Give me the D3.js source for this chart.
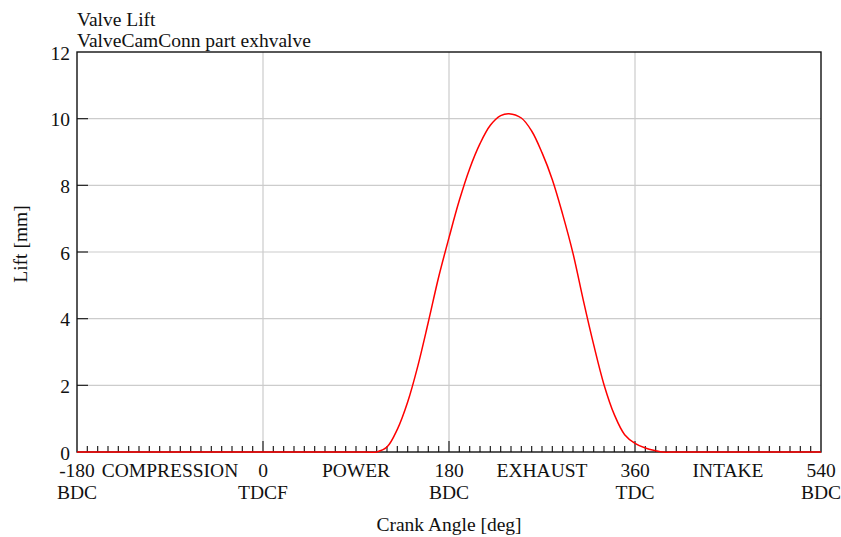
<!DOCTYPE html>
<html>
<head>
<meta charset="utf-8">
<script src="https://cdn.jsdelivr.net/npm/d3@7"></script>
<style>
  html, body { margin: 0; padding: 0; background: #fff; }
  svg text { font-family: "Liberation Serif", "Times New Roman", serif; fill: #111; }
</style>
</head>
<body>
<svg id="chart" width="841" height="537"></svg>
<script>
// Exhaust valve lift versus crank angle
const crankAngle = [-180, 100, 110, 120, 130, 140, 150, 160, 170, 180, 190, 200, 210, 220, 230, 238,
                    250, 260, 270, 280, 290, 300, 310, 320, 330, 340, 350, 360, 370, 380, 387, 400, 540];
const liftMm     = [0, 0, 0, 0.15, 0.68, 1.5, 2.6, 3.9, 5.25, 6.43, 7.55, 8.5, 9.25, 9.8, 10.09, 10.15,
                    10.02, 9.63, 8.98, 8.17, 7.13, 5.96, 4.55, 3.22, 2.02, 1.12, 0.52, 0.26, 0.12, 0.04, 0, 0, 0];

// Axis annotation
const angleTicks  = [-180, 0, 180, 360, 540];
const angleLabels = ["-180", "0", "180", "360", "540"];
const deadCentres = ["BDC", "TDCF", "BDC", "TDC", "BDC"];
const strokeMid   = [-90, 90, 270, 450];
const strokeNames = ["COMPRESSION", "POWER", "EXHAUST", "INTAKE"];
const liftTicks   = [0, 2, 4, 6, 8, 10, 12];
const gridAngles  = [0, 180, 360];
const titleLines  = ["Valve Lift", "ValveCamConn part exhvalve"];

const svg = d3.select("#chart");
const m = { left: 77, right: 821, top: 52, bottom: 452 };

const x = d3.scaleLinear().domain([-180, 540]).range([m.left, m.right]);
const y = d3.scaleLinear().domain([0, 12]).range([m.bottom, m.top]);

// grid
svg.append("g").selectAll("line.h")
  .data(liftTicks.filter(v => v > 0 && v < 12))
  .join("line")
  .attr("x1", m.left).attr("x2", m.right)
  .attr("y1", d => y(d)).attr("y2", d => y(d))
  .attr("stroke", "#cccccc").attr("stroke-width", 1.2);
svg.append("g").selectAll("line.v")
  .data(gridAngles)
  .join("line")
  .attr("x1", d => x(d)).attr("x2", d => x(d))
  .attr("y1", m.top).attr("y2", m.bottom)
  .attr("stroke", "#cccccc").attr("stroke-width", 1.2);

// minor / major ticks along the crank-angle axis (every 10 deg)
const minor = d3.range(-170, 540, 10);
svg.append("g").selectAll("line")
  .data(minor)
  .join("line")
  .attr("x1", d => x(d)).attr("x2", d => x(d))
  .attr("y1", m.bottom)
  .attr("y2", d => m.bottom - (d % 180 === 0 ? 11 : 6))
  .attr("stroke", "#222").attr("stroke-width", 1.2);

// lift ticks on the left edge
svg.append("g").selectAll("line")
  .data(liftTicks.filter(v => v > 0 && v < 12))
  .join("line")
  .attr("x1", m.left).attr("x2", m.left + 11)
  .attr("y1", d => y(d)).attr("y2", d => y(d))
  .attr("stroke", "#222").attr("stroke-width", 1.2);

// frame
svg.append("rect")
  .attr("x", m.left).attr("y", m.top)
  .attr("width", m.right - m.left).attr("height", m.bottom - m.top)
  .attr("fill", "none").attr("stroke", "#111").attr("stroke-width", 1.4);

// lift curve
const line = d3.line()
  .x((d, i) => x(crankAngle[i]))
  .y(d => y(Math.max(0, d)))
  .curve(d3.curveCatmullRom.alpha(0.5));
svg.append("path")
  .attr("d", line(liftMm))
  .attr("fill", "none").attr("stroke", "#ff0000").attr("stroke-width", 1.5);

const fs = "19.5px";

// lift labels
svg.append("g").selectAll("text")
  .data(liftTicks)
  .join("text")
  .attr("x", 70).attr("y", d => y(d) + 7.5)
  .attr("text-anchor", "end").style("font-size", fs)
  .text(d => d);

// angle labels, dead-centre names, stroke names
svg.append("g").selectAll("text")
  .data(angleTicks)
  .join("text")
  .attr("x", d => x(d)).attr("y", 476.5)
  .attr("text-anchor", "middle").style("font-size", fs)
  .text((d, i) => angleLabels[i]);
svg.append("g").selectAll("text")
  .data(angleTicks)
  .join("text")
  .attr("x", d => x(d)).attr("y", 499)
  .attr("text-anchor", "middle").style("font-size", fs)
  .text((d, i) => deadCentres[i]);
svg.append("g").selectAll("text")
  .data(strokeMid)
  .join("text")
  .attr("x", d => x(d)).attr("y", 476.5)
  .attr("text-anchor", "middle").style("font-size", fs)
  .text((d, i) => strokeNames[i]);

// axis titles
svg.append("text")
  .attr("x", (m.left + m.right) / 2).attr("y", 531)
  .attr("text-anchor", "middle").style("font-size", fs)
  .text("Crank Angle [deg]");
svg.append("text")
  .attr("transform", "translate(27,244) rotate(-90)")
  .attr("text-anchor", "middle").style("font-size", fs)
  .text("Lift [mm]");

// chart title
svg.append("g").selectAll("text")
  .data(titleLines)
  .join("text")
  .attr("x", 77).attr("y", (d, i) => 25.5 + i * 21)
  .style("font-size", fs)
  .text(d => d);
</script>
</body>
</html>
